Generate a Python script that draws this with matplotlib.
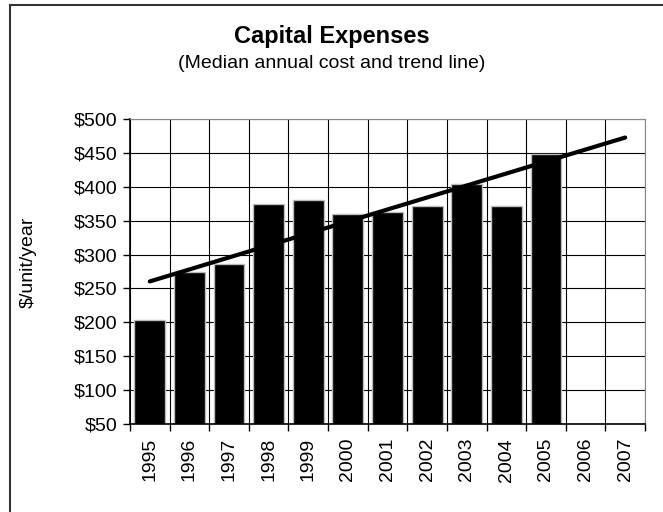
import matplotlib.pyplot as plt
import numpy as np
from matplotlib.lines import Line2D

plt.rcParams['font.family'] = ['Liberation Sans', 'DejaVu Sans']

years = ['1995', '1996', '1997', '1998', '1999', '2000', '2001',
         '2002', '2003', '2004', '2005', '2006', '2007']
cost = [203, 275, 286, 374, 380, 360, 363, 372, 404, 372, 448]
yticks = [50, 100, 150, 200, 250, 300, 350, 400, 450, 500]

fig = plt.figure(figsize=(6.63, 5.12), dpi=100)
ax = fig.add_axes([130/663, 1 - 424/512, 515/663, 305/512])

x = np.arange(len(years))
xc = x[:len(cost)]

# grid: horizontal at the value ticks, vertical between categories
for v in yticks:
    ax.axhline(v, color='black', lw=0.8, zorder=1)
for b in np.arange(-0.5, len(years), 1.0):
    ax.axvline(b, color='black', lw=0.8, zorder=1)

ax.bar(xc, cost, width=0.78, color='black', edgecolor='#bbbbbb',
       linewidth=1, zorder=2)

# least-squares trend extended to the last year
slope, icpt = np.polyfit(xc, cost, 1)
ax.plot([x[0], x[-1]], [icpt + slope * x[0], icpt + slope * x[-1]],
        color='black', lw=3, solid_capstyle='round', zorder=3)

ax.set_xlim(-0.5, len(years) - 0.5)
ax.set_ylim(50, 500)
ax.set_yticks(yticks)
ax.set_yticklabels(['$%d' % v for v in yticks], fontsize=14)
ax.set_xticks(np.arange(-0.5, len(years), 1.0))
ax.set_xticklabels([])
ax.set_xticks(x, minor=True)
ax.set_xticklabels(years, minor=True, rotation=90, fontsize=14)
ax.tick_params(axis='x', which='minor', length=0, pad=10)
ax.tick_params(axis='x', which='major', length=5, direction='out', width=1)
ax.tick_params(axis='y', length=5, direction='out', width=1, pad=4)
for side in ['top', 'right']:
    ax.spines[side].set_color('#888888')
for side in ['left', 'bottom']:
    ax.spines[side].set_color('black')
    ax.spines[side].set_linewidth(1.2)

ax.set_ylabel('$/unit/year', fontsize=14)
ax.yaxis.set_label_coords(-(130 - 37) / 515, (424 - 262) / 305)

fig.text(0.5, 1 - 36/512, 'Capital Expenses', ha='center', va='center',
         fontsize=17, fontweight='bold')
fig.text(0.5, 1 - 63/512, '(Median annual cost and trend line)',
         ha='center', va='center', fontsize=14)

# chart frame, only left and top edges fall inside the image
fx, fy = 9.5/663, 1 - 5/512
fig.lines.append(Line2D([fx, fx], [0, fy], transform=fig.transFigure,
                        color='#333333', lw=1.5))
fig.lines.append(Line2D([fx, 1], [fy, fy], transform=fig.transFigure,
                        color='#333333', lw=1.5))

fig.savefig('out.png', dpi=100)
